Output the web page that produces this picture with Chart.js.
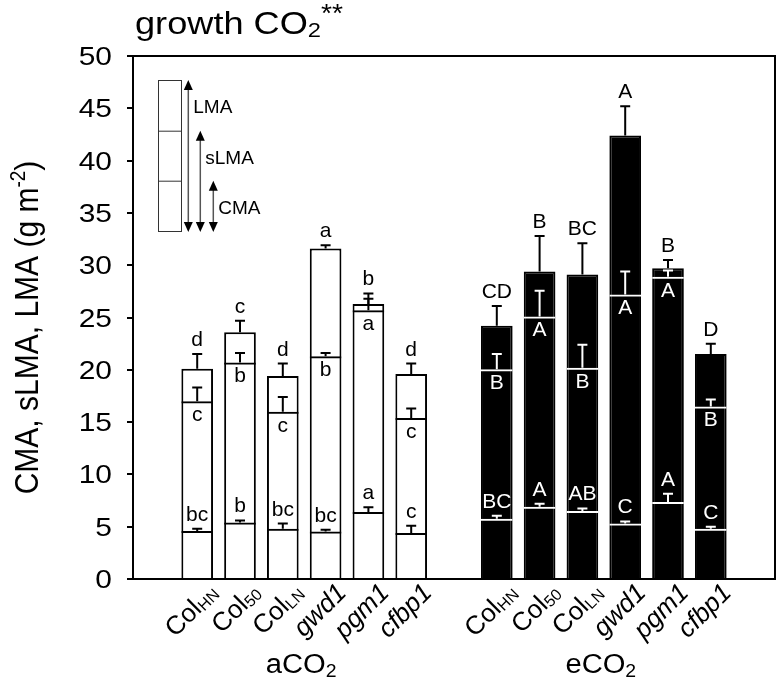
<!DOCTYPE html>
<html><head><meta charset="utf-8">
<script src="https://cdn.jsdelivr.net/npm/chart.js@4.4.0/dist/chart.umd.min.js"></script>
<style>html,body{margin:0;padding:0;background:#fff;}#wrap{width:777px;height:693px;}</style>
</head><body><div id="wrap"><canvas id="c" width="777" height="693"></canvas></div>
<script>
// ---------- data ----------
const treatments = ['aCO', 'eCO'];           // + subscript "2"
const genoBase = ['Col', 'Col', 'Col', 'gwd1', 'pgm1', 'cfbp1'];
const genoSub = ['HN', '50', 'LN', '', '', ''];
const genoItalic = [false, false, false, true, true, true];
const yTickValues = [0, 5, 10, 15, 20, 25, 30, 35, 40, 45, 50];

const CMA_a = [4.6, 5.4, 4.8, 4.55, 6.4, 4.4];
const CMA_a_err = [0.2, 0.2, 0.5, 0.15, 0.45, 0.7];
const sLMA_a = [17.0, 20.7, 16.0, 21.3, 25.7, 15.4];
const sLMA_a_err = [1.3, 0.9, 1.4, 0.3, 1.1, 0.9];
const LMA_a = [20.1, 23.6, 19.4, 31.6, 26.3, 19.6];
const LMA_a_err = [1.4, 1.1, 1.2, 0.3, 1.0, 1.0];

const CMA_e = [5.75, 6.9, 6.5, 5.3, 7.35, 4.8];
const CMA_e_err = [0.3, 0.3, 0.25, 0.2, 0.8, 0.2];
const sLMA_e = [20.05, 25.1, 20.2, 27.2, 28.9, 16.5];
const sLMA_e_err = [1.45, 2.45, 2.2, 2.2, 0.6, 0.65];
const LMA_e = [24.2, 29.4, 29.1, 42.4, 29.7, 21.5];
const LMA_e_err = [1.9, 3.4, 3.0, 2.8, 0.8, 1.0];

const letters_CMA_a = ['bc', 'b', 'bc', 'bc', 'a', 'c'];
const letters_sLMA_a = ['c', 'b', 'c', 'b', 'a', 'c'];
const letters_LMA_a = ['d', 'c', 'd', 'a', 'b', 'd'];
const letters_CMA_e = ['BC', 'A', 'AB', 'C', 'A', 'C'];
const letters_sLMA_e = ['B', 'A', 'B', 'A', 'A', 'B'];
const letters_LMA_e = ['CD', 'B', 'BC', 'A', 'B', 'D'];

// ---------- build 15-slot layout (spacer slots at both ends and between groups) ----------
const pad = (a, e, fill = null) => [fill, ...a, fill, ...e, fill];
const labels = pad(genoBase.map((g, i) => g + genoSub[i] + ' a'), genoBase.map((g, i) => g + genoSub[i] + ' e'), '');
const innerColors = pad(Array(6).fill('#000'), Array(6).fill('#fff'), '#000');
const outerFill = pad(Array(6).fill('#fff'), Array(6).fill('#000'), '#fff');

const FONT = '"Liberation Sans", Arial, Helvetica, sans-serif';

const series = [
  { key: 'CMA', data: pad(CMA_a, CMA_e), err: pad(CMA_a_err, CMA_e_err), lab: pad(letters_CMA_a, letters_CMA_e), pos: 'above' },
  { key: 'sLMA', data: pad(sLMA_a, sLMA_e), err: pad(sLMA_a_err, sLMA_e_err), lab: pad(letters_sLMA_a, letters_sLMA_e), pos: 'below' },
  { key: 'LMA', data: pad(LMA_a, LMA_e), err: pad(LMA_a_err, LMA_e_err), lab: pad(letters_LMA_a, letters_LMA_e), pos: 'above' }
];

function drawParts(ctx, parts, x, y, opt) {
  opt = opt || {};
  ctx.save();
  ctx.translate(x, y);
  ctx.scale(opt.sx || 1, 1);
  if (opt.rot) ctx.rotate(opt.rot);
  ctx.textAlign = 'left';
  ctx.textBaseline = 'alphabetic';
  ctx.fillStyle = opt.color || '#000';
  let total = 0;
  for (const p of parts) { ctx.font = p.font; total += ctx.measureText(p.text).width; }
  let cx = opt.align === 'right' ? -total : opt.align === 'center' ? -total / 2 : 0;
  for (const p of parts) {
    ctx.font = p.font;
    ctx.fillText(p.text, cx, p.dy || 0);
    cx += ctx.measureText(p.text).width;
  }
  ctx.restore();
}

const overlay = {
  id: 'overlay',
  afterDatasetsDraw(chart) {
    const ctx = chart.ctx;
    const y = chart.scales.y;
    ctx.save();
    series.forEach((s, di) => {
      const meta = chart.getDatasetMeta(di);
      s.data.forEach((v, i) => {
        if (v === null) return;
        const el = meta.data[i];
        const x = el.x;
        const inE = i > 7;
        const col = (s.key === 'LMA' || !inE) ? '#000' : '#fff';
        const y0 = y.getPixelForValue(v);
        const y1 = y.getPixelForValue(v + s.err[i]);
        ctx.strokeStyle = col;
        ctx.lineWidth = 2;
        ctx.beginPath();
        ctx.moveTo(x, y0); ctx.lineTo(x, y1);
        ctx.moveTo(x - 5, y1); ctx.lineTo(x + 5, y1);
        ctx.stroke();
        ctx.fillStyle = col;
        ctx.font = '21px ' + FONT;
        ctx.textAlign = 'center';
        ctx.textBaseline = 'alphabetic';
        if (s.pos === 'above') ctx.fillText(s.lab[i], x, y1 - 8);
        else ctx.fillText(s.lab[i], x, y0 + 20);
      });
    });
    ctx.restore();
  },
  afterDraw(chart) {
    const ctx = chart.ctx;
    const a = chart.chartArea;
    const xs = chart.scales.x, ys = chart.scales.y;
    ctx.save();
    // frame
    ctx.strokeStyle = '#000';
    ctx.lineWidth = 2;
    ctx.strokeRect(a.left, a.top, a.right - a.left, a.bottom - a.top);
    // y tick labels
    ys.ticks.forEach(t => {
      const py = ys.getPixelForValue(t.value);
      drawParts(ctx, [{ text: String(t.value), font: '26px ' + FONT }], a.left - 21, py + 9, { align: 'right', sx: 1.15 });
    });
    // category labels
    for (let g = 0; g < 2; g++) {
      for (let j = 0; j < 6; j++) {
        const idx = g * 7 + j + 1;
        const cx = xs.getPixelForValue(idx);
        const f = (genoItalic[j] ? 'italic ' : '') + '26px ' + FONT;
        const parts = [{ text: genoBase[j], font: f }];
        if (genoSub[j]) parts.push({ text: genoSub[j], font: '16px ' + FONT, dy: 2 });
        drawParts(ctx, parts, cx + 22, a.bottom + 15, { align: 'right', rot: -Math.PI / 4 });
      }
      const gc = (xs.getPixelForValue(g * 7 + 1) + xs.getPixelForValue(g * 7 + 6)) / 2;
      drawParts(ctx, [{ text: treatments[g], font: '27px ' + FONT }, { text: '2', font: '18px ' + FONT, dy: 4 }], gc - 3, 673, { align: 'center', sx: 1.08 });
    }
    // title
    drawParts(ctx, [
      { text: 'growth CO', font: '32px ' + FONT },
      { text: '2', font: '21px ' + FONT, dy: 3 },
      { text: '**', font: '25px ' + FONT, dy: -12 }
    ], 135, 34, { sx: 1.13 });
    // y title
    drawParts(ctx, [
      { text: 'CMA, sLMA, LMA (g m', font: '30px ' + FONT },
      { text: '-2', font: '19px ' + FONT, dy: -12 },
      { text: ')', font: '30px ' + FONT }
    ], 38, (a.top + a.bottom) / 2 + 10, { align: 'center', rot: -Math.PI / 2, sx: 1.12 });
    // legend inset (schematic)
    const bx = a.left + 25, bw = 23;
    const t0 = a.top + 24, t1 = a.top + 74.7, t2 = a.top + 124.7, t3 = a.top + 175;
    ctx.strokeStyle = '#333';
    ctx.lineWidth = 1;
    ctx.strokeRect(bx + 0.5, t0 + 0.5, bw, t3 - t0);
    ctx.beginPath();
    ctx.moveTo(bx, t1 + 0.5); ctx.lineTo(bx + bw, t1 + 0.5);
    ctx.moveTo(bx, t2 + 0.5); ctx.lineTo(bx + bw, t2 + 0.5);
    ctx.stroke();
    const arrows = [[a.left + 55.3, t0, 'LMA'], [a.left + 67.3, t1, 'sLMA'], [a.left + 80.3, t2, 'CMA']];
    arrows.forEach(([ax, top, txt]) => {
      ctx.strokeStyle = '#555';
      ctx.lineWidth = 1.5;
      ctx.beginPath(); ctx.moveTo(ax, top + 6); ctx.lineTo(ax, t3 - 6); ctx.stroke();
      ctx.fillStyle = '#000';
      ctx.beginPath(); ctx.moveTo(ax, top); ctx.lineTo(ax - 4.5, top + 10); ctx.lineTo(ax + 4.5, top + 10); ctx.closePath(); ctx.fill();
      ctx.beginPath(); ctx.moveTo(ax, t3 + 1); ctx.lineTo(ax - 4.5, t3 - 9); ctx.lineTo(ax + 4.5, t3 - 9); ctx.closePath(); ctx.fill();
      ctx.font = '19px ' + FONT;
      ctx.textAlign = 'left';
      ctx.textBaseline = 'middle';
      ctx.fillText(txt, ax + 5, top + 28);
    });
    ctx.restore();
  }
};

const datasets = [
  { label: 'CMA', data: series[0].data, backgroundColor: 'rgba(0,0,0,0)', borderColor: innerColors, borderWidth: { top: 2, left: 0, right: 0, bottom: 0 }, grouped: false },
  { label: 'sLMA', data: series[1].data, backgroundColor: 'rgba(0,0,0,0)', borderColor: innerColors, borderWidth: { top: 2, left: 0, right: 0, bottom: 0 }, grouped: false },
  { label: 'LMA', data: series[2].data, backgroundColor: outerFill, borderColor: '#000', borderWidth: 2, grouped: false }
];

new Chart(document.getElementById('c'), {
  type: 'bar',
  data: { labels: labels, datasets: datasets },
  options: {
    responsive: false,
    animation: false,
    barPercentage: 0.74,
    categoryPercentage: 1,
    layout: { padding: { top: 56, right: 2, left: 0, bottom: 0 } },
    plugins: { legend: { display: false }, tooltip: { enabled: false } },
    scales: {
      x: {
        type: 'category',
        offset: true,
        grid: { display: false },
        border: { display: false },
        ticks: { display: false },
        afterFit: s => { s.height = 114; }
      },
      y: {
        min: 0, max: 50,
        afterBuildTicks: s => { s.ticks = yTickValues.map(v => ({ value: v })); },
        grid: { drawOnChartArea: false, drawTicks: true, tickLength: 6, color: '#000', lineWidth: 2 },
        border: { display: false },
        ticks: { display: false },
        afterFit: s => { s.width = 133; }
      }
    }
  },
  plugins: [overlay]
});
</script>
</body></html>
